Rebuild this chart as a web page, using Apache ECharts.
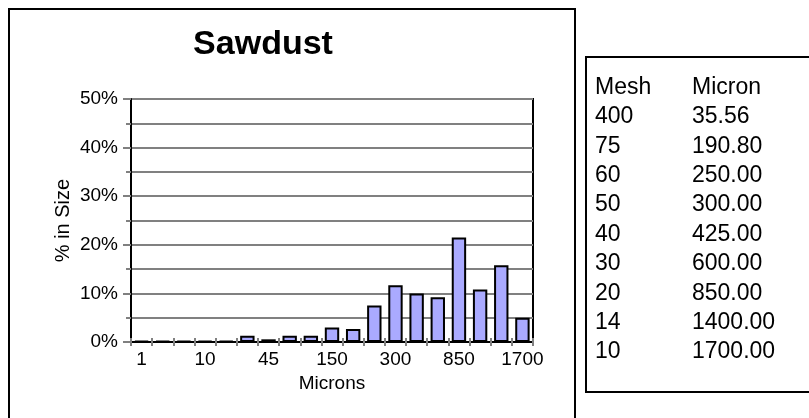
<!DOCTYPE html>
<html>
<head>
<meta charset="utf-8">
<script src="https://cdn.jsdelivr.net/npm/echarts@6/dist/echarts.min.js"></script>
<style>
html,body{margin:0;padding:0;background:#fff;}
#chart{width:809px;height:418px;}
</style>
</head>
<body>
<div id="chart"></div>
<script>
var categories = ['1','2','5','10','20','36','45','75','106','150','190','250','300','425','600','850','1000','1400','1700'];
var percentValues = [0.2,0.2,0.2,0.2,0.2,1.3,0.55,1.3,1.3,3.0,2.7,7.5,11.7,10.0,9.2,21.5,10.8,15.8,5.0];
var yTicks = [0,10,20,30,40,50];
var meshValues = ['400','75','60','50','40','30','20','14','10'];
var micronValues = ['35.56','190.80','250.00','300.00','425.00','600.00','850.00','1400.00','1700.00'];

var FONT = 'Liberation Sans, Arial, sans-serif';
var chart = echarts.init(document.getElementById('chart'), null, {renderer:'canvas'});

var TF = '23px ' + FONT;
var tableTexts = [];
var rowTop = 88, rowStep = 29.4;
tableTexts.push({type:'text', left:595, top:rowTop-12, style:{text:'Mesh', font:TF, fill:'#000'}});
tableTexts.push({type:'text', left:692, top:rowTop-12, style:{text:'Micron', font:TF, fill:'#000'}});
meshValues.forEach(function(m,i){
  tableTexts.push({type:'text', left:595, top:rowTop+(i+1)*rowStep-12, style:{text:m, font:TF, fill:'#000'}});
  tableTexts.push({type:'text', left:692, top:rowTop+(i+1)*rowStep-12, style:{text:micronValues[i], font:TF, fill:'#000'}});
});

var PLOT_H = 418 - 99 - 76;

chart.setOption({
  animation:false,
  backgroundColor:'#fff',
  title:{text:'Sawdust', left:258, top:23, textAlign:'center',
    textStyle:{fontFamily:FONT, fontSize:34, fontWeight:'bold', color:'#000'}},
  grid:{left:131, right:276, top:99, bottom:76, show:true, borderColor:'#000', borderWidth:2, containLabel:false},
  xAxis:[{type:'category', data:categories, position:'bottom',
    name:'Microns', nameLocation:'middle', nameGap:30,
    nameTextStyle:{fontFamily:FONT, fontSize:19, color:'#000'},
    axisLine:{lineStyle:{color:'#000', width:2}},
    axisTick:{show:true, alignWithLabel:false, interval:0, length:4, lineStyle:{color:'#808080', width:2}},
    axisLabel:{interval:2, margin:8, fontFamily:FONT, fontSize:19, color:'#000'}},
   {type:'category', data:categories, position:'top', offset:-PLOT_H,
    axisLine:{show:false}, axisLabel:{show:false}, splitLine:{show:false},
    axisTick:{show:true, inside:false, alignWithLabel:false, interval:0, length:4, lineStyle:{color:'#808080', width:2}}}],
  yAxis:{type:'value', min:0, max:50, interval:10,
    name:'% in Size', nameLocation:'middle', nameGap:58, nameRotate:90,
    nameTextStyle:{fontFamily:FONT, fontSize:20, color:'#000'},
    axisLine:{show:true, lineStyle:{color:'#000', width:2}},
    axisTick:{show:true, length:8, lineStyle:{color:'#808080', width:2}},
    minorTick:{show:true, splitNumber:2, length:5, lineStyle:{color:'#808080', width:2}},
    splitLine:{show:true, lineStyle:{color:'#808080', width:2}},
    minorSplitLine:{show:true, lineStyle:{color:'#808080', width:2}},
    axisLabel:{formatter:'{value}%', margin:13, fontFamily:FONT, fontSize:19, color:'#000'}},
  series:[{type:'bar', data:percentValues, barCategoryGap:'32%',
    itemStyle:{color:'#aaaaff', borderColor:'#000', borderWidth:2}}],
  graphic:[
    {type:'rect', shape:{x:9, y:9, width:566, height:420}, style:{fill:'none', stroke:'#000', lineWidth:2}, z:-1},
    {type:'rect', shape:{x:586, y:57, width:240, height:335}, style:{fill:'none', stroke:'#000', lineWidth:2}, z:-1}
  ].concat(tableTexts)
});
</script>
</body>
</html>
